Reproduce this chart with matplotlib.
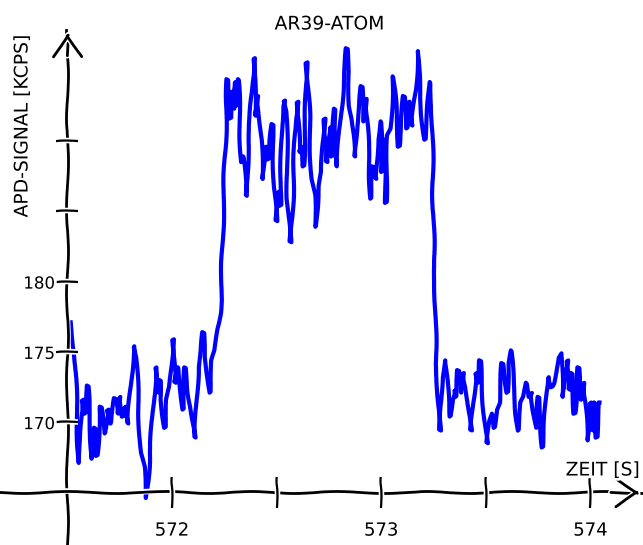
import matplotlib
matplotlib.use('Agg')
from matplotlib import pyplot as plt

# APD signal of an Ar39 atom passing the trap
time_s = [
    571.516, 571.525, 571.535, 571.540, 571.554, 571.564, 571.573, 571.583, 571.597, 571.612,
    571.616, 571.631, 571.640, 571.655, 571.659, 571.679, 571.693, 571.707, 571.727, 571.741,
    571.751, 571.765, 571.775, 571.789, 571.803, 571.818, 571.827, 571.837, 571.847, 571.851,
    571.866, 571.875, 571.890, 571.899, 571.909, 571.923, 571.933, 571.942, 571.947, 571.966,
    571.976, 571.990, 572.005, 572.014, 572.029, 572.043, 572.053, 572.062, 572.077, 572.091,
    572.110, 572.125, 572.139, 572.149, 572.158, 572.173, 572.182, 572.192, 572.206, 572.216,
    572.230, 572.235,
    572.245, 572.254, 572.264, 572.278, 572.283, 572.293, 572.302, 572.307, 572.317, 572.326,
    572.331, 572.341, 572.355, 572.365, 572.374, 572.384, 572.393, 572.398, 572.408, 572.417,
    572.427, 572.432, 572.446, 572.460, 572.470, 572.480, 572.489, 572.499, 572.508, 572.518,
    572.528, 572.537, 572.547, 572.552, 572.566, 572.571, 572.580, 572.590, 572.600, 572.609,
    572.619, 572.628, 572.638, 572.643, 572.657, 572.667, 572.681, 572.686, 572.700, 572.715,
    572.729, 572.739,
    572.758, 572.763, 572.777, 572.787, 572.801, 572.811, 572.820, 572.835, 572.844, 572.849,
    572.859, 572.873, 572.882, 572.892, 572.906, 572.916, 572.926, 572.940, 572.950, 572.959,
    572.974, 572.983, 572.998, 573.002, 573.012, 573.022, 573.031, 573.046, 573.055, 573.070,
    573.084, 573.098, 573.108, 573.122, 573.132, 573.146, 573.156, 573.165, 573.175, 573.185,
    573.194, 573.209, 573.218, 573.233, 573.242, 573.252, 573.257,
    573.261, 573.271, 573.281, 573.290, 573.305, 573.314, 573.329, 573.338, 573.353, 573.357,
    573.367, 573.381, 573.391, 573.405, 573.415, 573.429, 573.439, 573.453, 573.463, 573.472,
    573.482, 573.496, 573.506, 573.520, 573.530, 573.540, 573.549, 573.564, 573.578, 573.592,
    573.602, 573.607, 573.621, 573.631, 573.645, 573.655, 573.669, 573.683, 573.693, 573.707,
    573.717, 573.727, 573.741, 573.751, 573.760, 573.770, 573.779, 573.789, 573.799, 573.813,
    573.823, 573.837, 573.847, 573.861, 573.866, 573.880, 573.890, 573.899, 573.909, 573.923,
    573.933, 573.942, 573.957, 573.966, 573.976, 573.986, 574.000, 574.010, 574.019, 574.029,
    574.043,
]
signal_kcps = [
    177.1, 176.1, 174.9, 172.8, 167.1, 168.7, 171.6, 170.6, 172.6, 169.2,
    167.4, 169.6, 167.6, 169.9, 171.1, 169.2, 170.9, 169.9, 171.7, 170.6,
    171.8, 170.4, 171.1, 169.9, 172.8, 175.4, 174.6, 172.3, 169.2, 167.8,
    166.8, 164.6, 166.8, 168.7, 170.4, 173.9, 172.1, 173.0, 171.6, 169.6,
    171.6, 172.5, 175.9, 172.8, 173.9, 172.3, 170.9, 173.9, 172.1, 171.1,
    168.9, 173.9, 175.1, 176.4, 174.6, 173.2, 172.1, 174.4, 175.1, 176.6,
    177.8, 178.7,
    184.9, 189.2, 194.4, 191.6, 193.5, 192.3, 194.2, 192.5, 194.4, 190.6,
    188.5, 188.9, 186.1, 190.1, 191.6, 194.2, 195.9, 191.8, 193.2, 192.1,
    190.1, 187.3, 189.6, 188.7, 190.1, 191.2, 186.8, 184.3, 186.4, 185.4,
    192.5, 192.9, 192.1, 185.9, 182.8, 183.9, 186.6, 191.6, 192.8, 189.2,
    189.6, 188.2, 191.4, 195.6, 191.8, 187.3, 186.1, 183.9, 186.8, 187.8,
    191.6, 188.5,
    191.0, 188.9, 192.3, 188.2, 190.6, 192.5, 194.4, 196.6, 194.9, 192.5,
    191.6, 188.9, 191.1, 192.3, 193.9, 191.4, 193.0, 189.2, 185.9, 188.2,
    187.3, 190.1, 191.4, 187.8, 190.1, 185.6, 190.4, 190.9, 194.6, 192.5,
    189.6, 191.8, 193.2, 190.9, 192.8, 191.1, 192.5, 193.7, 196.4, 193.0,
    191.8, 190.1, 191.4, 194.2, 192.5, 181.5, 180.1,
    174.2, 172.3, 169.4, 173.2, 174.4, 172.8, 170.4, 171.6, 172.3, 171.8,
    173.7, 172.1, 173.5, 172.5, 170.9, 169.4, 171.4, 173.5, 172.8, 174.4,
    172.3, 170.1, 168.5, 170.1, 170.6, 169.6, 170.9, 171.4, 174.2, 172.8,
    172.1, 174.2, 175.1, 172.8, 170.6, 169.4, 171.4, 171.8, 172.8, 171.8,
    172.1, 170.9, 169.6, 171.8, 170.4, 168.2, 169.9, 171.4, 173.2, 172.5,
    172.8, 173.9, 174.6, 174.9, 171.8, 173.7, 174.4, 172.3, 173.5, 170.6,
    171.6, 173.9, 171.6, 172.8, 171.1, 168.7, 171.4, 169.4, 171.4, 168.9,
    171.4,
]

x_ticks = [572, 572.5, 573, 573.5, 574]
x_ticklabels = ['572', '', '573', '', '574']
y_ticks = [170, 175, 180, 185, 190]
y_ticklabels = ['170', '175', '180', '', '']

plt.xkcd()
plt.rcParams['font.family'] = ['DejaVu Sans']

fig = plt.figure(figsize=(6.43, 5.45), dpi=100)
ax = fig.add_axes([0, 0, 1, 515 / 545])
ax.plot(time_s, signal_kcps, color='#0000ff', lw=3)

ax.set_xlim(571.178, 574.251)
ax.set_ylim(161.26, 197.9)
ax.spines['top'].set_visible(False)
ax.spines['right'].set_visible(False)
ax.spines['left'].set_position(('data', 571.5))
ax.spines['bottom'].set_position(('data', 165))
ax.spines['left'].set_linewidth(2)
ax.spines['bottom'].set_linewidth(2)

ax.set_xticks(x_ticks, x_ticklabels)
ax.set_yticks(y_ticks, y_ticklabels)
ax.tick_params(axis='x', direction='inout', length=22, width=1.6, pad=10, labelsize=13)
ax.tick_params(axis='y', direction='inout', length=16, width=1.6, pad=1, labelsize=12)
# ticks on top of the spines, so they cut through them like in a sketch
ax.xaxis.set_zorder(3)
ax.yaxis.set_zorder(3)

# arrow heads on both axes
arrow = dict(arrowstyle='->,head_length=0.8,head_width=0.5', lw=2, color='k',
             mutation_scale=20, shrinkA=0, shrinkB=0)
ax.annotate('', xy=(0.996, 165), xycoords=('axes fraction', 'data'),
            xytext=(0.95, 165), textcoords=('axes fraction', 'data'), arrowprops=arrow)
ax.annotate('', xy=(571.5, 0.996), xycoords=('data', 'axes fraction'),
            xytext=(571.5, 0.95), textcoords=('data', 'axes fraction'), arrowprops=arrow)

fig.text(329.5 / 643, 1 - 24 / 545, 'AR39-ATOM', ha='center', va='center', fontsize=13.5)
fig.text(22 / 643, 1 - 126 / 545, 'APD-SIGNAL [KCPS]', rotation=90,
         ha='center', va='center', fontsize=13.5)
fig.text(640 / 643, 1 - 470 / 545, 'ZEIT [S]', ha='right', va='center', fontsize=13.5)

fig.savefig('out.png', dpi=100)
